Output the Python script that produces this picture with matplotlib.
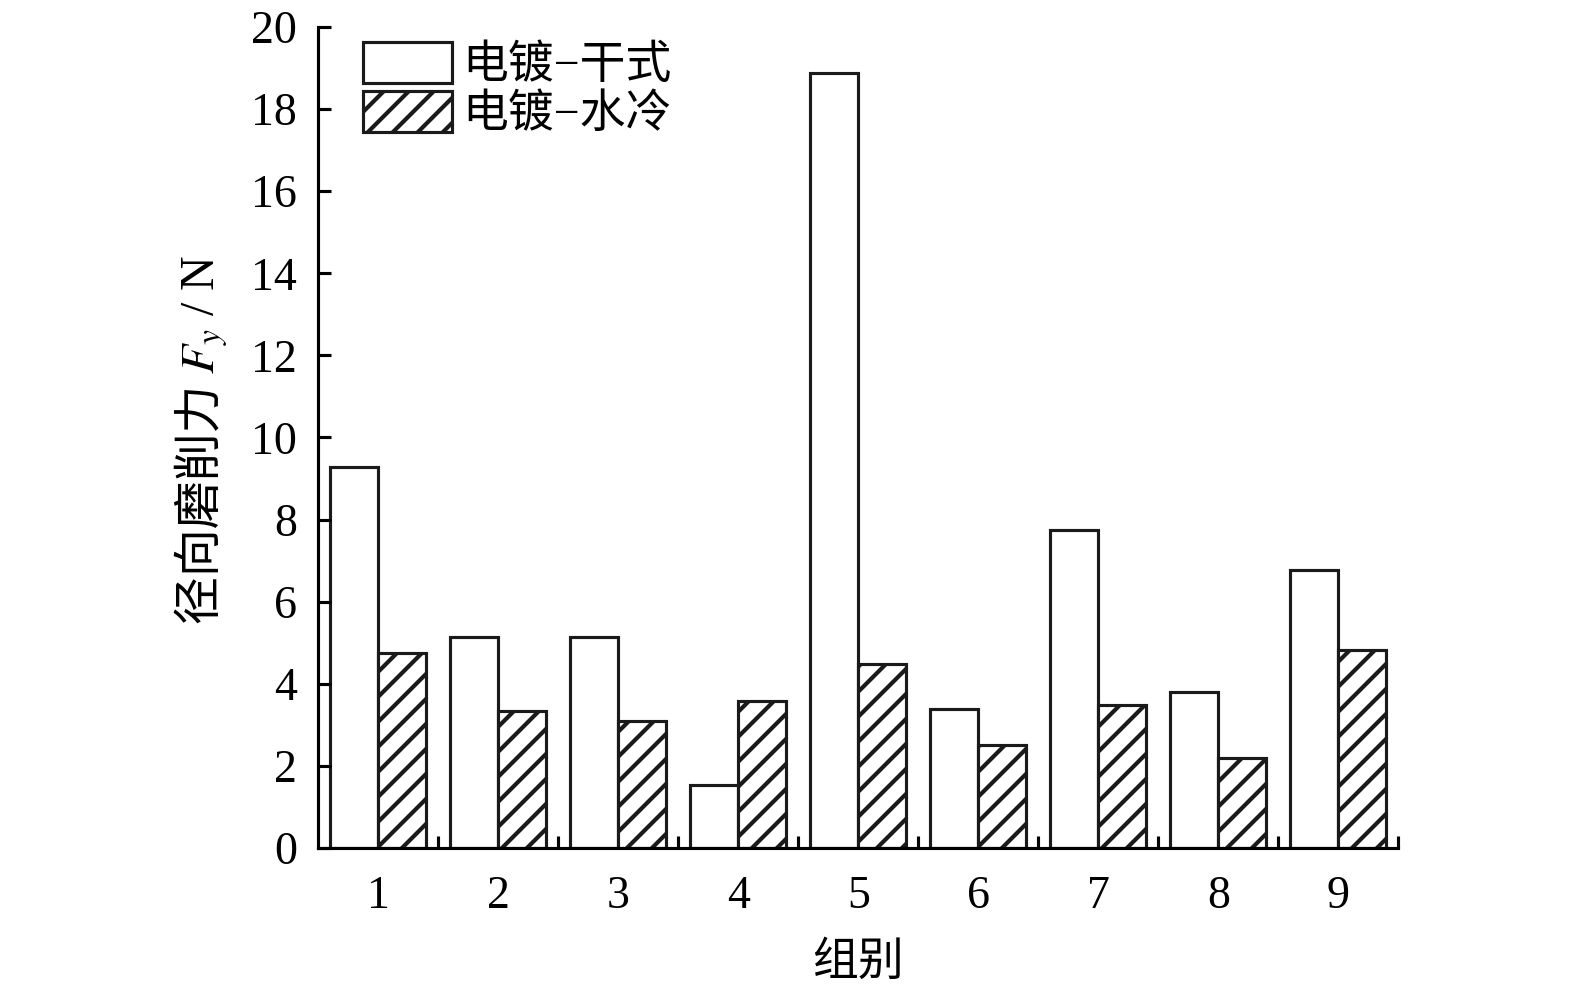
import matplotlib.pyplot as plt
import numpy as np

plt.rcParams["font.family"] = ["Liberation Serif", "Noto Sans CJK SC"]
plt.rcParams["mathtext.fontset"] = "stix"
plt.rcParams["hatch.linewidth"] = 2.0

groups = ["1", "2", "3", "4", "5", "6", "7", "8", "9"]
dry_force = [9.28, 5.14, 5.14, 1.53, 18.88, 3.39, 7.75, 3.80, 6.77]
water_force = [4.75, 3.34, 3.09, 3.58, 4.48, 2.51, 3.48, 2.19, 4.82]
series_labels = ["电镀−干式", "电镀−水冷"]

x = np.arange(1, len(groups) + 1)
width = 0.4

fig = plt.figure(figsize=(10.5, 6.607), dpi=150)
ax = fig.add_axes([0.2019, 0.1443, 0.686, 0.8285])

ax.bar(x - width / 2, dry_force, width, facecolor="white",
       edgecolor="#1a1a1a", linewidth=1.5, label=series_labels[0])
ax.bar(x + width / 2, water_force, width, facecolor="white",
       edgecolor="#1a1a1a", linewidth=1.5, hatch="//", label=series_labels[1])

ax.set_xlim(0.5, len(groups) + 0.5)
ax.set_ylim(0, 20)
ax.set_yticks(np.arange(0, 21, 2))

ax.set_xticks(x)
ax.set_xticklabels(groups)
ax.set_xticks(np.arange(1.5, len(groups) + 1, 1), minor=True)
ax.tick_params(axis="x", which="major", length=0, pad=13, labelsize=22)
ax.tick_params(axis="x", which="minor", direction="in", length=6, width=1.5)
ax.tick_params(axis="y", direction="in", length=6, width=1.5, pad=10,
               labelsize=22)

for side in ["top", "right"]:
    ax.spines[side].set_visible(False)
for side in ["left", "bottom"]:
    ax.spines[side].set_linewidth(1.5)

ax.set_xlabel("组别", fontsize=22, labelpad=12)

# y label: CJK part and math part drawn separately (mathtext has no font fallback)
label_x = 0.136
label_y0 = 1 - 624 / 991
cjk_part = fig.text(label_x, label_y0, "径向磨削力 ", rotation=90,
                    rotation_mode="anchor", ha="left", va="baseline",
                    fontsize=23, family="Noto Sans CJK SC")
fig.canvas.draw()
bb = cjk_part.get_window_extent().transformed(fig.transFigure.inverted())
fig.text(label_x, bb.y1, r"$F_y$ / N", rotation=90, rotation_mode="anchor",
         ha="left", va="baseline", fontsize=23)

ax.legend(loc="upper left", bbox_to_anchor=(0.042, 0.982), frameon=False,
          fontsize=22, handlelength=1.93, handleheight=1.0, labelspacing=0.07,
          handletextpad=0.22, borderpad=0, borderaxespad=0)

fig.savefig("out.png", dpi=150)
